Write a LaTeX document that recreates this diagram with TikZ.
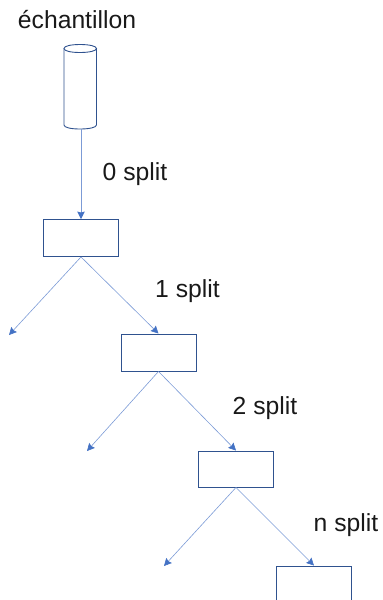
\documentclass[tikz,border=0pt]{standalone}
\usepackage{fontspec}
\setmainfont{Liberation Sans}
\usetikzlibrary{arrows.meta}
\definecolor{boxc}{HTML}{2F528F}
\definecolor{linec}{HTML}{4472C4}
\definecolor{linelt}{HTML}{7C9BD6}
\begin{document}
\begin{tikzpicture}[x=1pt,y=-1pt,
 boxn/.style={draw=boxc,line width=0.9pt,minimum width=75pt,minimum height=37pt,inner sep=0pt,anchor=center},
 lab/.style={font=\fontsize{24.7pt}{28pt}\selectfont,text=black!90,inner sep=0pt,anchor=center},
 conn/.style={draw=linelt,line width=0.6pt,-{Stealth[length=7.5pt,width=7.5pt,inset=1pt,color=linec]}}]
\useasboundingbox (0,0) rectangle (383,600);
\node[boxn] (b0) at (81,238) {};
\node[boxn] (b1) at (158.5,352.5) {};
\node[boxn,minimum height=36pt] (b2) at (236,469) {};
\node[boxn,minimum height=36pt] (b3) at (314,584) {};
\coordinate (f0) at (9,335);
\coordinate (f1) at (87,451);
\coordinate (f2) at (164,566);
\node[lab] (t) at (77,20) {échantillon};
\node[lab] (l0) at (135,174) {0 split};
\node[lab] (l1) at (187.5,291.5) {1 split};
\node[lab] (l2) at (265,408) {2 split};
\node[lab] (l3) at (346,525) {n split};
\coordinate (cyl) at (81,129);
\draw[boxc,line width=0.9pt] (64,48.5) -- (64,125) .. controls (64,127.5) and (71,129) .. (80,129) .. controls (89,129) and (96.5,127.5) .. (96.5,125) -- (96.5,48.5);
\draw[boxc,line width=0.9pt] (80,44.5) .. controls (71,44.5) and (64,46) .. (64,48.5) .. controls (64,51) and (71,52.5) .. (80,52.5) .. controls (89,52.5) and (96.5,51) .. (96.5,48.5) .. controls (96.5,46) and (89,44.5) .. (80,44.5) -- cycle;
\draw[conn] (cyl) -- (b0.north);
\draw[conn] (b0.south) -- (f0);
\draw[conn] (b0.south) -- (b1.north);
\draw[conn] (b1.south) -- (f1);
\draw[conn] (b1.south) -- (b2.north);
\draw[conn] (b2.south) -- (f2);
\draw[conn] (b2.south) -- (b3.north);
\end{tikzpicture}
\end{document}
